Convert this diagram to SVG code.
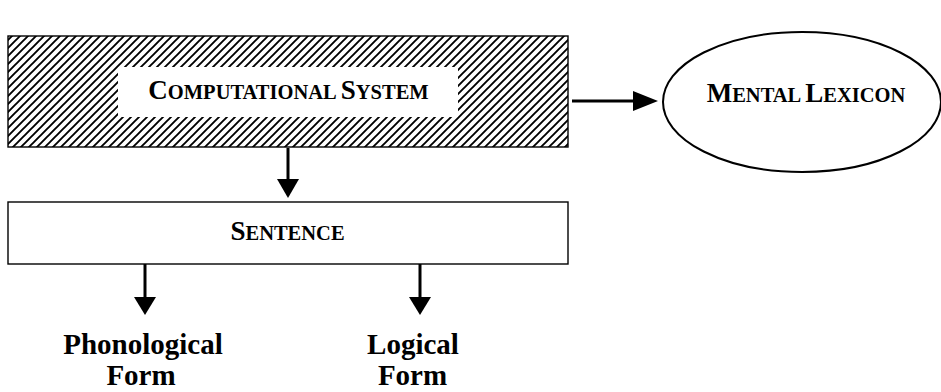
<svg xmlns="http://www.w3.org/2000/svg" width="941" height="392" viewBox="0 0 941 392">
<style>
text{font-family:"Liberation Serif","Times New Roman",serif;font-weight:bold;fill:#000;text-anchor:middle}
.big{font-size:27px}
.sm{font-size:20.5px}
.lbl{font-size:29px}
.box{fill:#fff;stroke:#000;stroke-width:1.4}
.line{stroke:#000;stroke-width:3;fill:none}
.head{fill:#000}
</style>
<defs>
<pattern id="hatch" patternUnits="userSpaceOnUse" width="8" height="8">
<rect width="8" height="8" fill="#fff"/>
<path d="M-2,2 L2,-2 M0,8 L8,0 M6,10 L10,6" stroke="#000" stroke-width="1.9"/>
</pattern>
</defs>
<rect width="941" height="392" fill="#fff"/>
<g id="computational-system">
<rect x="8" y="36" width="560" height="111" fill="url(#hatch)" stroke="#000" stroke-width="1.4"/>
<rect x="118" y="67" width="340" height="50" fill="#fff"/>
<text x="288.5" y="99"><tspan class="big">C</tspan><tspan class="sm">OMPUTATIONAL </tspan><tspan class="big">S</tspan><tspan class="sm">YSTEM</tspan></text>
</g>
<g id="mental-lexicon">
<ellipse cx="802" cy="102" rx="139" ry="70" fill="#fff" stroke="#000" stroke-width="2"/>
<text x="806" y="102"><tspan class="big">M</tspan><tspan class="sm">ENTAL </tspan><tspan class="big">L</tspan><tspan class="sm">EXICON</tspan></text>
</g>
<g id="sentence">
<rect class="box" x="8" y="202" width="560" height="62"/>
<text x="287.5" y="240"><tspan class="big">S</tspan><tspan class="sm">ENTENCE</tspan></text>
</g>
<g id="phonological-form">
<text class="lbl" x="143" y="354">Phonological</text>
<text class="lbl" x="141" y="385">Form</text>
</g>
<g id="logical-form">
<text class="lbl" x="413" y="354">Logical</text>
<text class="lbl" x="412.5" y="385">Form</text>
</g>
<g id="connectors">
<line class="line" x1="572" y1="101" x2="635" y2="101"/>
<polygon class="head" points="633,91 658,101 633,111"/>
<line class="line" x1="288" y1="148" x2="288" y2="181"/>
<polygon class="head" points="277,179 299,179 288,198"/>
<line class="line" x1="145" y1="264" x2="145" y2="299"/>
<polygon class="head" points="134,297 156,297 145,315"/>
<line class="line" x1="420" y1="264" x2="420" y2="299"/>
<polygon class="head" points="409,297 431,297 420,315"/>
</g>
</svg>
